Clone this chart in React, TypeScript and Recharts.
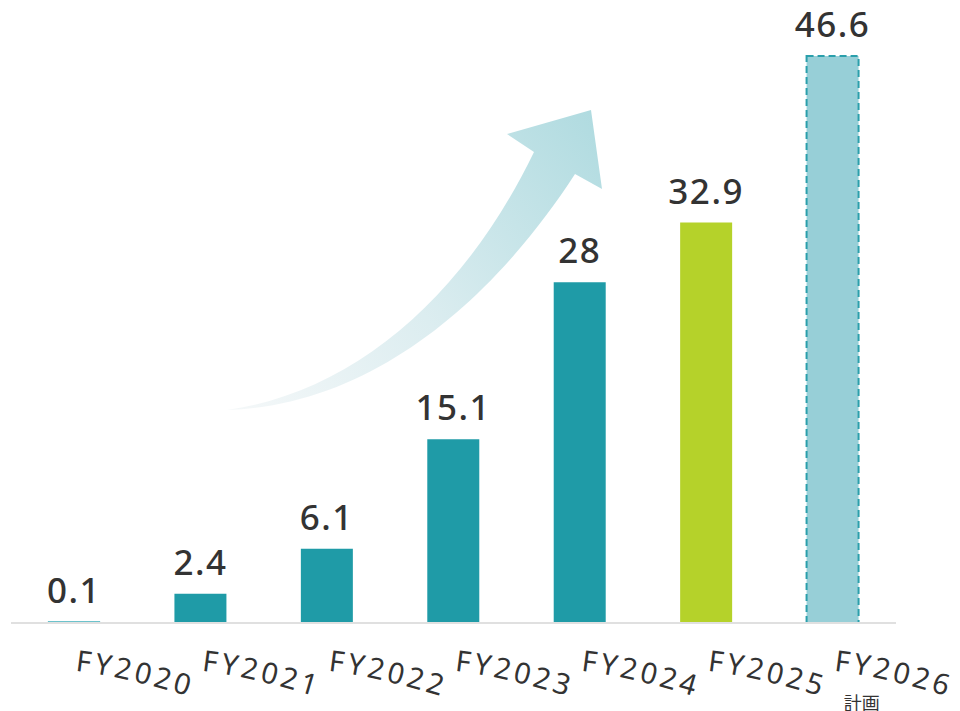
import React from "react";
import { BarChart, Bar, XAxis, YAxis, Cell, LabelList, Customized } from "recharts";

const categories = ["FY2020", "FY2021", "FY2022", "FY2023", "FY2024", "FY2025", "FY2026"];
const values = [0.1, 2.4, 6.1, 15.1, 28, 32.9, 46.6];
const subLabels = ["", "", "", "", "", "", "計画"];
const barColors = ["#1f9ba7", "#1f9ba7", "#1f9ba7", "#1f9ba7", "#1f9ba7", "#b5d22a", "#97cfd7"];

const data = categories.map((c, i) => ({ name: c, value: values[i], sub: subLabels[i] }));

const FONT = "'Noto Sans', 'Open Sans', sans-serif";

const Tick = (props: any) => {
  const { x, y, payload, index } = props;
  const id = `tp-${index}`;
  const x0 = x + 1;
  const y0 = y + 40;
  const sub = subLabels[index];
  return (
    <g>
      <defs>
        <path id={id} d={`M ${x0} ${y0} Q ${x0 + 50} ${y0 + 5} ${x0 + 135} ${y0 + 32}`} fill="none" />
      </defs>
      <text fontFamily={FONT} fontSize={29} fill="#333" letterSpacing={3.5}>
        <textPath href={`#${id}`}>{payload.value}</textPath>
      </text>
      {sub ? (
        <text x={x + 29} y={y + 79} textAnchor="middle" fontFamily="'Noto Sans CJK JP', sans-serif" fontSize={18} fill="#333">
          {sub}
        </text>
      ) : null}
    </g>
  );
};

const Arrow = () => (
  <g transform="translate(-8,-8)">
    <defs>
      <linearGradient id="arrowGrad" x1="227" y1="410" x2="595" y2="115" gradientUnits="userSpaceOnUse">
        <stop offset="0" stopColor="#f5f8f9" />
        <stop offset="0.45" stopColor="#dcedf0" />
        <stop offset="1" stopColor="#b0dbe0" />
      </linearGradient>
    </defs>
    <path
      d="M 227 410 C 355 392, 465 295, 534 152 L 507 134 L 591 110 L 602 189 L 575 174 C 500 290, 380 405, 227 410 Z"
      fill="url(#arrowGrad)"
    />
  </g>
);

export default function App() {
  return (
    <BarChart
      width={944}
      height={703}
      data={data}
      margin={{ top: 6.5, right: 56, left: 3, bottom: 0 }}
    >
      <Customized component={Arrow} />
      <YAxis hide domain={[0, 50]} />
      <XAxis
        dataKey="name"
        height={88}
        axisLine={{ stroke: "#e0e0e0", strokeWidth: 2 }}
        tickLine={false}
        tick={<Tick />}
        interval={0}
      />
      <Bar dataKey="value" barSize={52} isAnimationActive={false}>
        {data.map((d, i) => (
          <Cell
            key={d.name}
            fill={barColors[i]}
            stroke={i === 6 ? "#2a9fab" : i === 0 ? "#4bb5c0" : "none"}
            strokeWidth={i === 6 ? 2 : 1}
            strokeDasharray={i === 6 ? "7 4" : undefined}
          />
        ))}
        <LabelList
          dataKey="value"
          position="top"
          offset={19}
          fill="#333"
          fontSize={35}
          fontWeight={500}
          fontFamily={FONT}
          letterSpacing={1.5}
        />
      </Bar>
    </BarChart>
  );
}
